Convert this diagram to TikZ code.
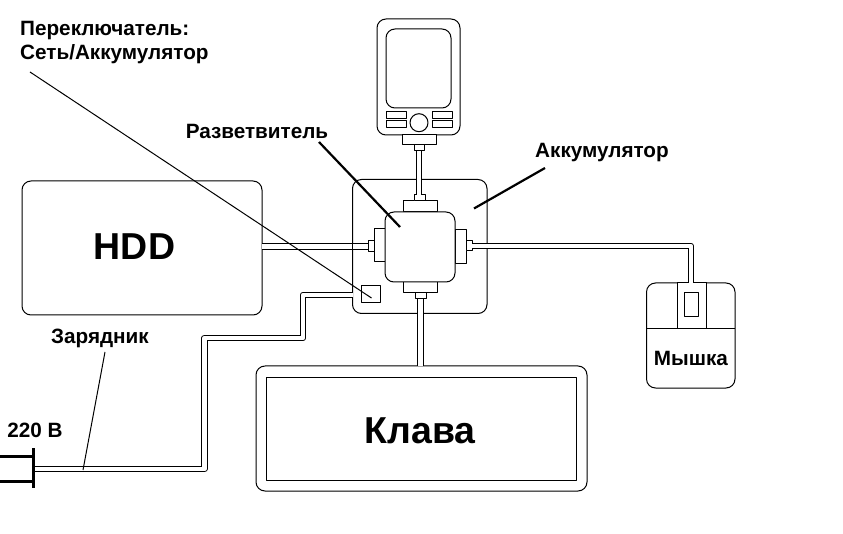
\documentclass[tikz,border=0pt]{standalone}
\usepackage{fontspec}
\setmainfont{Liberation Sans}
\tikzset{
	part/.style={draw,fill=white,line width=1pt,inner sep=0pt,outer sep=0pt},
	cable/.style={draw,line width=1pt,double=white,double distance=4.5pt},
	leader/.style={line width=1pt},
	leaderb/.style={line width=2.2pt},
	prong/.style={line width=3pt},
	lbl/.style={inner sep=0pt,font=\fontsize{20.7}{24}\selectfont\bfseries},
	biglbl/.style={inner sep=0pt,font=\fontsize{37.5}{38}\selectfont\bfseries}
}
\begin{document}
\begin{tikzpicture}[x=1pt,y=-1pt,line join=round]
	\useasboundingbox (0,0) rectangle (843,534);
	% Phone
	\node[part,rounded corners=9pt,minimum width=83pt,minimum height=116pt] (phone) at (418.5,77) {};
	\node[part,rounded corners=9pt,minimum width=65pt,minimum height=79pt] (screen) at (418.5,68.5) {};
	\node[part,minimum width=20pt,minimum height=7pt] (keya) at (396,115.5) {};
	\node[part,minimum width=20pt,minimum height=7pt] (keyb) at (396,124.5) {};
	\node[part,minimum width=20pt,minimum height=7pt] (keyc) at (442,115.5) {};
	\node[part,minimum width=20pt,minimum height=7pt] (keyd) at (442,124.5) {};
	\node[part,circle,minimum size=18pt] (joy) at (419,122.7) {};
	\node[part,minimum width=34pt,minimum height=10pt] (phoneplug) at (419,140) {};
	\node[part,minimum width=10pt,minimum height=6pt] (phonejack) at (419,148) {};
	% Accumulator and hub
	\node[part,rounded corners=9pt,minimum width=134.5pt,minimum height=134pt] (acc) at (419.75,246.5) {};
	\node[part,minimum width=34pt,minimum height=11pt] (topplug) at (420,206.5) {};
	\node[part,minimum width=11pt,minimum height=6pt] (topjack) at (419.5,198) {};
	\node[part,minimum width=34pt,minimum height=11pt] (botplug) at (420,287.5) {};
	\node[part,minimum width=11pt,minimum height=6pt] (botjack) at (420.5,296) {};
	\node[part,minimum width=11pt,minimum height=33pt] (leftplug) at (379.5,245.5) {};
	\node[part,minimum width=6pt,minimum height=11pt] (leftjack) at (371,246.5) {};
	\node[part,minimum width=11pt,minimum height=34pt] (rightplug) at (460.5,247) {};
	\node[part,minimum width=6pt,minimum height=10pt] (rightjack) at (469,246) {};
	\node[part,rounded corners=9pt,minimum width=70pt,minimum height=70pt] (hub) at (420,247) {};
	\node[part,minimum width=19pt,minimum height=17pt] (switch) at (370.5,294.5) {};
	% Devices
	\node[part,rounded corners=9pt,minimum width=240pt,minimum height=134pt] (hdd) at (142,248) {};
	\node[biglbl] (hddlbl) at (134.5,247) {HDD};
	\node[part,rounded corners=9pt,minimum width=331pt,minimum height=125pt] (keybd) at (421.5,428.5) {};
	\node[part,minimum width=310pt,minimum height=103pt] (keybdin) at (421,428.5) {};
	\node[biglbl] (keybdlbl) at (420,431) {Клава};
	\node[part,rounded corners=9pt,minimum width=88.5pt,minimum height=105pt] (mouse) at (690.75,335.5) {};
	\node[part,minimum width=29pt,minimum height=46pt] (mousebtn) at (691.5,306) {};
	\node[part,minimum width=14pt,minimum height=24pt] (wheel) at (691,305) {};
	\draw[line width=1pt] (mouse.west |- mousebtn.south)--(mouse.east |- mousebtn.south);
	\node[lbl] (mouselbl) at (691,358) {Мышка};
	% Cables
	\draw[cable] (phonejack.south)--(phonejack.south |- topjack.north);
	\draw[cable] (leftjack.west)--(leftjack.west -| hdd.east);
	\draw[line width=1pt] (acc.west |- leftjack.north)--(acc.west |- leftjack.south);
	\draw[cable] (botjack.south)--(botjack.south |- keybd.north);
	\draw[cable] (rightjack.east) -| (mouse.north);
	\coordinate (plugend) at (35,469);
	\coordinate (chargein) at (352.5,295);
	\draw[cable] (plugend) -| (204.5,338) -| (303,295)--(chargein);
	% Plug
	\coordinate (plugtop) at (33,448);
	\coordinate (plugbot) at (33,488);
	\draw[prong] (plugtop)--(plugbot);
	\draw[prong] (0,456)--(33,456) (0,481)--(33,481);
	% Labels
	\node[lbl,align=left,anchor=north west] (swlbl) at (20,21) {Переключатель:\\Сеть/Аккумулятор};
	\node[lbl] (hublbl) at (257,131) {Разветвитель};
	\node[lbl] (acclbl) at (602,153) {Аккумулятор};
	\node[lbl] (chglbl) at (100,338) {Зарядник};
	\node[lbl] (voltlbl) at (35,430) {220 В};
	% Leaders
	\coordinate (swfrom) at (30,72);
	\coordinate (swto) at (371.5,298);
	\coordinate (hubfrom) at (319,142);
	\coordinate (hubto) at (400,227);
	\coordinate (accfrom) at (545,168);
	\coordinate (accto) at (474,208.5);
	\coordinate (chgfrom) at (105,352);
	\coordinate (chgto) at (83,470);
	\draw[leader] (swfrom)--(swto);
	\draw[leaderb] (hubfrom)--(hubto);
	\draw[leaderb] (accfrom)--(accto);
	\draw[leader] (chgfrom)--(chgto);
\end{tikzpicture}
\end{document}
